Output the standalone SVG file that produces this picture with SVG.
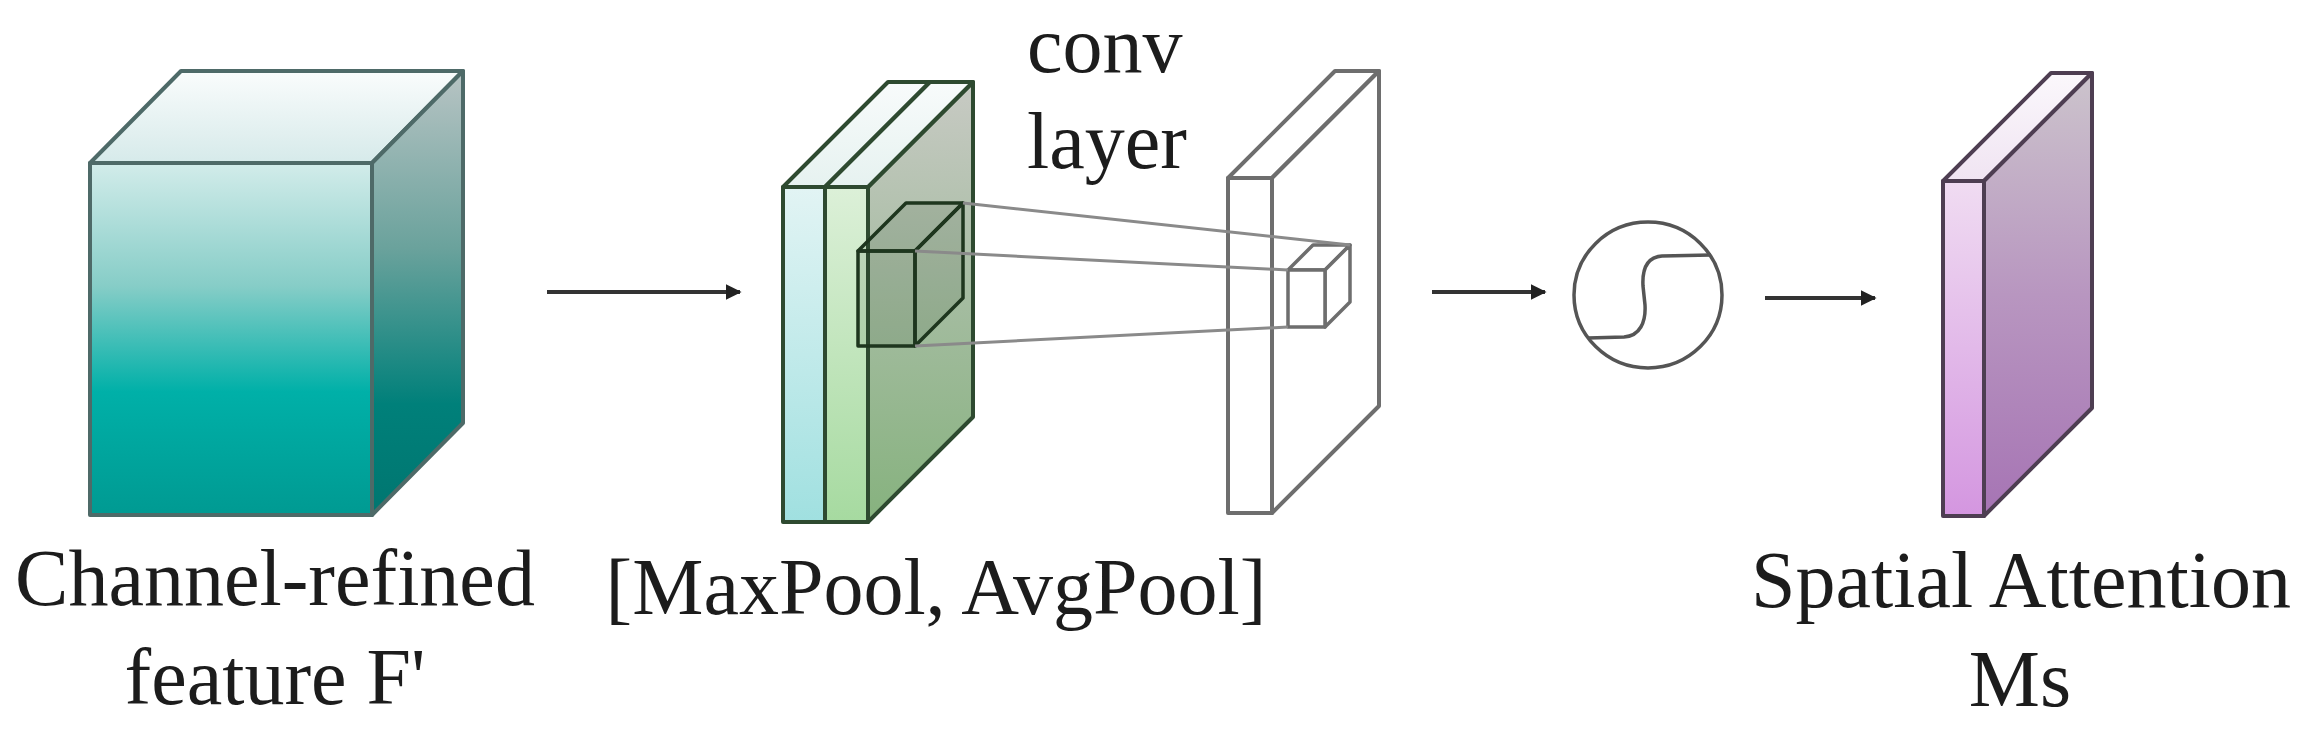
<svg xmlns="http://www.w3.org/2000/svg" width="2309" height="738" viewBox="0 0 2309 738">
<defs>
<linearGradient id="tealFront" x1="0" y1="0" x2="0" y2="1">
<stop offset="0" stop-color="#d2ecea"/><stop offset="0.35" stop-color="#86cdc7"/><stop offset="0.65" stop-color="#00b0a8"/><stop offset="1" stop-color="#009a92"/>
</linearGradient>
<linearGradient id="tealSide" x1="0" y1="0" x2="0" y2="1">
<stop offset="0" stop-color="#b8c4c4"/><stop offset="0.4" stop-color="#6aa29c"/><stop offset="0.75" stop-color="#00807a"/><stop offset="1" stop-color="#007670"/>
</linearGradient>
<linearGradient id="tealTop" x1="0" y1="0" x2="0" y2="1">
<stop offset="0" stop-color="#fafcfc"/><stop offset="1" stop-color="#d6eaea"/>
</linearGradient>
<linearGradient id="cyanFront" x1="0" y1="0" x2="0" y2="1">
<stop offset="0" stop-color="#e2f4f4"/><stop offset="1" stop-color="#a0e0e0"/>
</linearGradient>
<linearGradient id="greenFront" x1="0" y1="0" x2="0" y2="1">
<stop offset="0" stop-color="#dcf0d8"/><stop offset="1" stop-color="#a6daa0"/>
</linearGradient>
<linearGradient id="greenSide" x1="0" y1="0" x2="0" y2="1">
<stop offset="0" stop-color="#c8cac4"/><stop offset="0.5" stop-color="#a4bca0"/><stop offset="1" stop-color="#86b27e"/>
</linearGradient>
<linearGradient id="lightTop" x1="0" y1="0" x2="0" y2="1">
<stop offset="0" stop-color="#f8fbfb"/><stop offset="1" stop-color="#e6f2f0"/>
</linearGradient>
<linearGradient id="purpleFront" x1="0" y1="0" x2="0" y2="1">
<stop offset="0" stop-color="#f0dcf2"/><stop offset="1" stop-color="#d496e0"/>
</linearGradient>
<linearGradient id="purpleSide" x1="0" y1="0" x2="0" y2="1">
<stop offset="0" stop-color="#ccc4cc"/><stop offset="0.5" stop-color="#b896c0"/><stop offset="1" stop-color="#a674b4"/>
</linearGradient>
<linearGradient id="purpleTop" x1="0" y1="0" x2="0" y2="1">
<stop offset="0" stop-color="#fbf8fc"/><stop offset="1" stop-color="#f0e4f2"/>
</linearGradient>
<marker id="arrow" viewBox="0 0 10 10" refX="9" refY="5" markerWidth="4" markerHeight="4" orient="auto" markerUnits="strokeWidth">
<path d="M0,0 L10,5 L0,10 z" fill="#222"/>
</marker>
</defs>
<style>
.edge{stroke-width:4;stroke-linejoin:round}
.teal{stroke:#4e6a68}
.grn{stroke:#2e4a30}
.gry{stroke:#6e6e6e;fill:#ffffff}
.pur{stroke:#4e3e52}
.conn{stroke:#333;stroke-width:4;fill:none}
.proj{stroke:#8a8a8a;stroke-width:3;fill:none}
</style>
<rect width="2309" height="738" fill="#ffffff"/>

<g id="feature-cube">
<polygon class="edge teal" points="90,163 181,71 463,71 372,163" fill="url(#tealTop)"/>
<polygon class="edge teal" points="372,163 463,71 463,423 372,515" fill="url(#tealSide)"/>
<rect class="edge teal" x="90" y="163" width="282" height="352" fill="url(#tealFront)"/>
<text font-family="Liberation Serif, Times New Roman, DejaVu Serif, serif" font-size="80" fill="#1c1c1c" x="275" y="605" text-anchor="middle">Channel-refined</text>
<text font-family="Liberation Serif, Times New Roman, DejaVu Serif, serif" font-size="80" fill="#1c1c1c" x="275" y="704" text-anchor="middle">feature F'</text>
</g>

<g id="pooled-maps">
<polygon class="edge grn" points="868,187 973,82 973,417 868,522" fill="url(#greenSide)"/>
<polygon class="edge grn" points="783,187 888,82 930,82 825,187" fill="url(#lightTop)"/>
<polygon class="edge grn" points="825,187 930,82 973,82 868,187" fill="url(#lightTop)"/>
<rect class="edge grn" x="783" y="187" width="42" height="335" fill="url(#cyanFront)"/>
<rect class="edge grn" x="825" y="187" width="43" height="335" fill="url(#greenFront)"/>
<g id="kernel" fill="rgba(30,60,30,0.12)" stroke="#1e361e" stroke-width="3.5" stroke-linejoin="round">
<polygon points="858,251 906,203 963,203 915,251"/>
<polygon points="915,251 963,203 963,298 915,346"/>
<rect x="858" y="251" width="57" height="95"/>
</g>
<text font-family="Liberation Serif, Times New Roman, DejaVu Serif, serif" font-size="80" fill="#1c1c1c" x="936" y="614" text-anchor="middle">[MaxPool, AvgPool]</text>
</g>

<g id="conv-layer">
<polygon class="edge gry" points="1228,178 1335,71 1379,71 1272,178"/>
<polygon class="edge gry" points="1272,178 1379,71 1379,406 1272,513"/>
<rect class="edge gry" x="1228" y="178" width="44" height="335"/>
<g id="conv-out" fill="#ffffff" stroke="#6e6e6e" stroke-width="3.5" stroke-linejoin="round">
<polygon points="1288,270 1313,245 1350,245 1325,270"/>
<polygon points="1325,270 1350,245 1350,302 1325,327"/>
<rect x="1288" y="270" width="37" height="57"/>
</g>
<text font-family="Liberation Serif, Times New Roman, DejaVu Serif, serif" font-size="80" fill="#1c1c1c" x="1027" y="72">conv</text>
<text font-family="Liberation Serif, Times New Roman, DejaVu Serif, serif" font-size="80" fill="#1c1c1c" x="1027" y="168">layer</text>
</g>

<g id="sigmoid">
<ellipse cx="1648" cy="295" rx="74" ry="73" fill="none" stroke="#555" stroke-width="3.5"/>
<path d="M1588,338 L1624,337 C1640,336 1646,322 1645,305 L1643,286 C1642,268 1648,257 1662,256 L1711,255" fill="none" stroke="#555" stroke-width="3.5"/>
</g>

<g id="spatial-attention">
<polygon class="edge pur" points="1943,181 2051,73 2092,73 1984,181" fill="url(#purpleTop)"/>
<polygon class="edge pur" points="1984,181 2092,73 2092,408 1984,516" fill="url(#purpleSide)"/>
<rect class="edge pur" x="1943" y="181" width="41" height="335" fill="url(#purpleFront)"/>
<text font-family="Liberation Serif, Times New Roman, DejaVu Serif, serif" font-size="80" fill="#1c1c1c" x="2021" y="607" text-anchor="middle">Spatial Attention</text>
<text font-family="Liberation Serif, Times New Roman, DejaVu Serif, serif" font-size="80" fill="#1c1c1c" x="2020" y="706" text-anchor="middle">Ms</text>
</g>

<g id="connectors">
<line class="conn" x1="547" y1="292" x2="740" y2="292" marker-end="url(#arrow)"/>
<line class="conn" x1="1432" y1="292" x2="1545" y2="292" marker-end="url(#arrow)"/>
<line class="conn" x1="1765" y1="298" x2="1875" y2="298" marker-end="url(#arrow)"/>
<line class="proj" x1="963" y1="203" x2="1350" y2="245"/>
<line class="proj" x1="915" y1="251" x2="1288" y2="270"/>
<line class="proj" x1="915" y1="346" x2="1288" y2="327"/>
</g>
</svg>
